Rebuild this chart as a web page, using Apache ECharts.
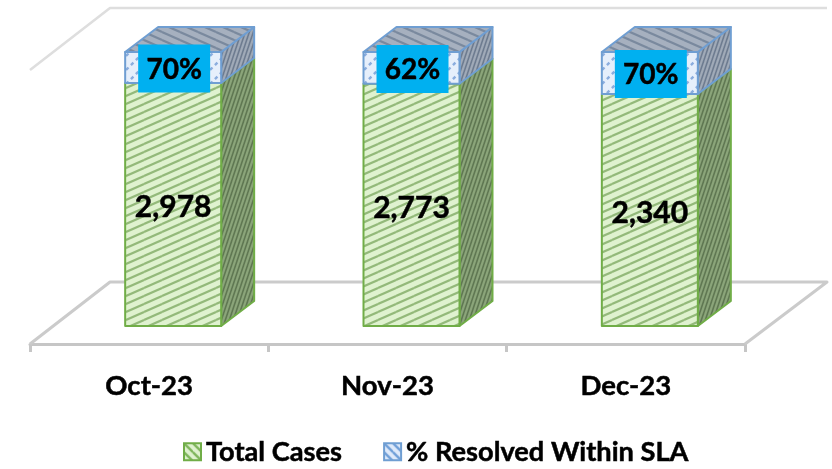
<!DOCTYPE html>
<html>
<head>
<meta charset="utf-8">
<style>html,body{margin:0;padding:0;background:#fff}#c{width:832px;height:469px}</style>
<script src="https://cdn.jsdelivr.net/npm/echarts@6/dist/echarts.min.js"></script>
</head>
<body>
<div id="c"></div>
<script>
var categories = ['Oct-23', 'Nov-23', 'Dec-23'];
var totalCases = [2978, 2773, 2340];
var resolvedPct = [70, 62, 70];
// Bars are drawn as a 100% stack: share of each bar's height.
var casesShare = [88.7, 88.4, 84.7];
var resolvedShare = [11.3, 11.6, 15.3];

var FONT = 'Lato, "Open Sans", sans-serif';
var DX = 33, DY = 25, BAR_W = 96, SHIFT = 24;

function tile(w, h, bg, stroke, lw, x0, y0, x1, y1, dash) {
  var c = document.createElement('canvas');
  c.width = w; c.height = h;
  var g = c.getContext('2d');
  g.fillStyle = bg; g.fillRect(0, 0, w, h);
  g.strokeStyle = stroke; g.lineWidth = lw;
  if (dash) g.setLineDash(dash);
  [-1, 0, 1].forEach(function (i) {
    [-1, 0, 1].forEach(function (j) {
      g.beginPath();
      g.moveTo(x0 + i * w, y0 + j * h);
      g.lineTo(x1 + i * w, y1 + j * h);
      g.stroke();
    });
  });
  return { image: c, repeat: 'repeat' };
}
var P = {
  gFront: tile(18, 8, '#dff2cf', '#93b97a', 2.2, 0, 8, 18, 0),
  gSide: tile(4, 12, '#8ba57a', '#5f7752', 1.6, 0, 12, 4, 0),
  bFront: tile(14, 14, '#e6effb', '#8badde', 2.4, 0, 14, 14, 0, [3.5, 3.5]),
  bSide: tile(4, 12, '#a0aab8', '#6d7b8f', 1.6, 0, 12, 4, 0),
  bTop: tile(18, 8, '#a6b0bf', '#7a899e', 2.2, 0, 0, 18, 8),
  gLegend: tile(9, 9, '#dff1cf', '#7fb65c', 2.4, 0, 0, 9, 9),
  bLegend: tile(9, 9, '#dfeafa', '#6f9fd8', 2.4, 0, 0, 9, 9)
};

function poly(pts, fill, stroke, z) {
  return { type: 'polygon', z2: z || 1, shape: { points: pts },
    style: { fill: fill, stroke: stroke, lineWidth: 2, lineJoin: 'round' } };
}
function txt(x, y, t, size, box) {
  var style = { text: t, x: x, y: y + (box ? 1 : 2), fill: '#000', align: 'center', verticalAlign: 'middle',
    font: 'bold ' + size + 'px ' + FONT, stroke: '#000', lineWidth: 0.5 };
  var kids = [];
  if (box) {
    kids.push({ type: 'rect', z2: 9, shape: { x: x - 36, y: y - 24, width: 72, height: 48 },
      style: { fill: '#00b0f0' } });
  }
  kids.push({ type: 'text', z2: 10, style: style });
  return { type: 'group', children: kids };
}

function barItem(kind) {
  return function (params, api) {
    var i = api.value(0);
    var lo = api.coord([i, api.value(1)]);
    var hi = api.coord([i, api.value(2)]);
    var x0 = lo[0] + SHIFT - BAR_W / 2, x1 = x0 + BAR_W;
    var yb = lo[1], yt = hi[1];
    var isBlue = kind === 'blue';
    var col = isBlue ? '#6f9ed2' : '#70ad47';
    var kids = [
      poly([[x1, yb], [x1 + DX, yb - DY], [x1 + DX, yt - DY], [x1, yt]], isBlue ? P.bSide : P.gSide, col),
      poly([[x0, yb], [x1, yb], [x1, yt], [x0, yt]], isBlue ? P.bFront : P.gFront, col)
    ];
    if (isBlue) {
      kids.push(poly([[x0, yt], [x0 + DX, yt - DY], [x1 + DX, yt - DY], [x1, yt]], P.bTop, col));
      kids.push(txt((x0 + x1) / 2 + 1, (yb + yt) / 2 + 1, resolvedPct[i] + '%', 28, true));
    } else {
      kids.push(txt((x0 + x1) / 2, (yb + yt) / 2 + 1, totalCases[i].toLocaleString('en-US'), 30));
    }
    return { type: 'group', children: kids };
  };
}

function frameItem(params, api) {
  var s = params.coordSys;
  var fx = s.x, fy = s.y + s.height + 18, fr = s.x + s.width;
  var bx = fx + 80, by = fy - 62, br = fr + 82, ty = 8;
  var ln = function (pts, color, w) {
    return { type: 'polyline', shape: { points: pts },
      style: { stroke: color, lineWidth: w, fill: null, lineJoin: 'round' } };
  };
  return { type: 'group', children: [
    ln([[fx, fy], [bx, by], [br, by], [fr, fy]], '#cbcbcb', 3),
    ln([[fx, 70], [bx, ty], [br, ty]], '#dedede', 2.5)
  ] };
}

function rows(lo, hi) {
  return categories.map(function (c, i) { return [i, lo[i], hi[i]]; });
}
var stackTop = casesShare.map(function (v, i) { return v + resolvedShare[i]; });

var chart = echarts.init(document.getElementById('c'));
chart.setOption({
  animation: false,
  backgroundColor: '#fff',
  grid: { left: 30, top: 52, width: 715, height: 274 },
  xAxis: {
    type: 'category', data: categories, offset: 18,
    axisLine: { onZero: false, lineStyle: { color: '#c6c6c6', width: 3 } },
    axisTick: { show: true, alignWithLabel: false, length: 8, lineStyle: { color: '#c6c6c6', width: 3 } },
    axisLabel: { color: '#000', fontFamily: FONT, fontWeight: 'bold', fontSize: 27.5, margin: 28,
      textBorderColor: '#000', textBorderWidth: 0.5 }
  },
  yAxis: { type: 'value', min: 0, max: 100, show: false },
  legend: {
    left: 183, top: 438, padding: 0, icon: 'rect', itemWidth: 17, itemHeight: 17, itemGap: 41,
    textStyle: { color: '#000', fontFamily: FONT, fontWeight: 'bold', fontSize: 27.2,
      textBorderColor: '#000', textBorderWidth: 0.5 },
    selectedMode: false,
    data: ['Total Cases', '% Resolved Within SLA']
  },
  series: [
    { type: 'custom', name: 'frame', silent: true, z: 1, renderItem: frameItem, data: [[0, 0, 0]],
      encode: { x: 0, y: 1 } },
    { type: 'custom', name: 'Total Cases', z: 2, renderItem: barItem('green'),
      itemStyle: { color: P.gLegend, borderColor: '#70ad47', borderWidth: 2 },
      encode: { x: 0, y: [1, 2] }, data: rows([0, 0, 0], casesShare) },
    { type: 'custom', name: '% Resolved Within SLA', z: 3, renderItem: barItem('blue'),
      itemStyle: { color: P.bLegend, borderColor: '#6f9ed2', borderWidth: 2 },
      encode: { x: 0, y: [1, 2] }, data: rows(casesShare, stackTop) }
  ]
});
</script>
</body>
</html>
